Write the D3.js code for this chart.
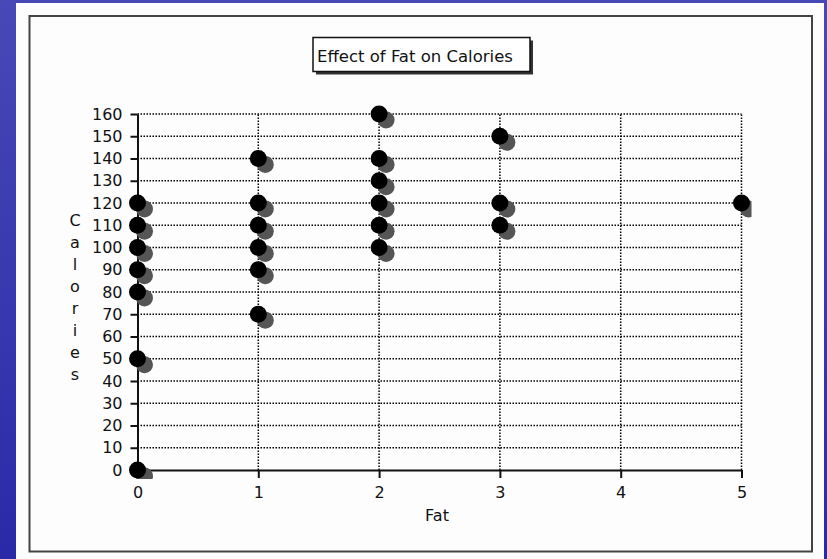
<!DOCTYPE html>
<html>
<head>
<meta charset="utf-8">
<script src="https://cdn.jsdelivr.net/npm/d3@7"></script>
<style>
  html, body { margin: 0; padding: 0; background: #3434ae; }
  svg { display: block; }
  text { font-family: "DejaVu Sans", sans-serif; fill: #111; }
</style>
</head>
<body>
<svg id="chart" width="827" height="559"></svg>
<script>
// ---- data ----
const fatValues      = [0, 0, 0, 0, 0, 0, 0, 1, 1, 1, 1, 1, 1, 2, 2, 2, 2, 2, 2, 3, 3, 3, 5];
const calorieValues  = [0, 50, 80, 90, 100, 110, 120, 70, 90, 100, 110, 120, 140, 100, 110, 120, 130, 140, 160, 110, 120, 150, 120];
const xTickValues    = [0, 1, 2, 3, 4, 5];
const yTickValues    = [0, 10, 20, 30, 40, 50, 60, 70, 80, 90, 100, 110, 120, 130, 140, 150, 160];
const chartTitle     = "Effect of Fat on Calories";
const xTitle         = "Fat";
const yTitle         = "Calories";

const svg = d3.select("#chart");

// blue slide background
const defs = svg.append("defs");
const bg = defs.append("linearGradient").attr("id", "bg").attr("x1", 0).attr("y1", 0).attr("x2", 0).attr("y2", 1);
bg.append("stop").attr("offset", "0%").attr("stop-color", "#4848b8");
bg.append("stop").attr("offset", "100%").attr("stop-color", "#2a2aa8");
svg.append("rect").attr("width", 827).attr("height", 559).attr("fill", "url(#bg)");

// white panel + frame
svg.append("rect").attr("x", 16).attr("y", 3).attr("width", 808).attr("height", 556).attr("fill", "#fdfdfd");
svg.append("rect").attr("x", 29.5).attr("y", 16).attr("width", 782.5).attr("height", 535.5)
  .attr("fill", "none").attr("stroke", "#444").attr("stroke-width", 2);

// scales
const x = d3.scaleLinear().domain([0, 5]).range([137.5, 741.5]);
const y = d3.scaleLinear().domain([0, 160]).range([470, 114]);

// grid (dotted)
const grid = svg.append("g").attr("stroke", "#000").attr("stroke-width", 1.5).attr("stroke-dasharray", "1.5,1.5");
grid.selectAll(".h").data(yTickValues.filter(d => d > 0)).join("line")
  .attr("x1", x(0)).attr("x2", x(5)).attr("y1", d => y(d)).attr("y2", d => y(d));
grid.selectAll(".v").data(xTickValues.filter(d => d > 0)).join("line")
  .attr("x1", d => x(d)).attr("x2", d => x(d)).attr("y1", y(0)).attr("y2", y(160));

// axes
const yAxis = d3.axisLeft(y).tickValues(yTickValues).tickFormat(d3.format("d")).tickSize(7).tickPadding(8).tickSizeOuter(0);
const xAxis = d3.axisBottom(x).tickValues(xTickValues).tickFormat(d3.format("d")).tickSize(8).tickPadding(9).tickSizeOuter(0);

const gy = svg.append("g").attr("transform", `translate(${x(0)},0)`).call(yAxis);
const gx = svg.append("g").attr("transform", `translate(0,${y(0)})`).call(xAxis);
[gy, gx].forEach(g => {
  g.select(".domain").attr("stroke", "#111").attr("stroke-width", 2);
  g.selectAll(".tick line").attr("stroke", "#111").attr("stroke-width", 2);
  g.selectAll(".tick text").attr("font-family", "DejaVu Sans, sans-serif").attr("font-size", 16).attr("fill", "#111");
});

// points with drop shadow, clipped near the plot area
defs.append("clipPath").attr("id", "plotclip").append("rect")
  .attr("x", x(0) - 10).attr("y", y(160) - 10)
  .attr("width", x(5) - x(0) + 20).attr("height", y(0) - y(160) + 19);

const pts = fatValues.map((f, i) => ({ f, c: calorieValues[i] }));
const pg = svg.append("g").attr("clip-path", "url(#plotclip)");
pg.selectAll(".shadow").data(pts).join("circle")
  .attr("cx", d => x(d.f) + 7).attr("cy", d => y(d.c) + 6).attr("r", 8.5).attr("fill", "#555");
pg.selectAll(".dot").data(pts).join("circle")
  .attr("cx", d => x(d.f)).attr("cy", d => y(d.c)).attr("r", 8.5).attr("fill", "#000");

// title box with shadow
svg.append("rect").attr("x", 316).attr("y", 40.5).attr("width", 217).attr("height", 34).attr("fill", "#333");
svg.append("rect").attr("x", 313).attr("y", 37.5).attr("width", 217).attr("height", 34)
  .attr("fill", "#fff").attr("stroke", "#111").attr("stroke-width", 1.5);
svg.append("text").attr("x", 317).attr("y", 61.5).attr("text-anchor", "start")
  .attr("font-size", 16.5).text(chartTitle);

// x title
svg.append("text").attr("x", 437).attr("y", 521).attr("text-anchor", "middle")
  .attr("font-size", 16).text(xTitle);

// y title, letters stacked vertically
svg.append("g").selectAll("text").data(yTitle.split("")).join("text")
  .attr("x", 75).attr("y", (d, i) => 226 + i * 22).attr("text-anchor", "middle")
  .attr("font-size", 16).text(d => d);
</script>
</body>
</html>
